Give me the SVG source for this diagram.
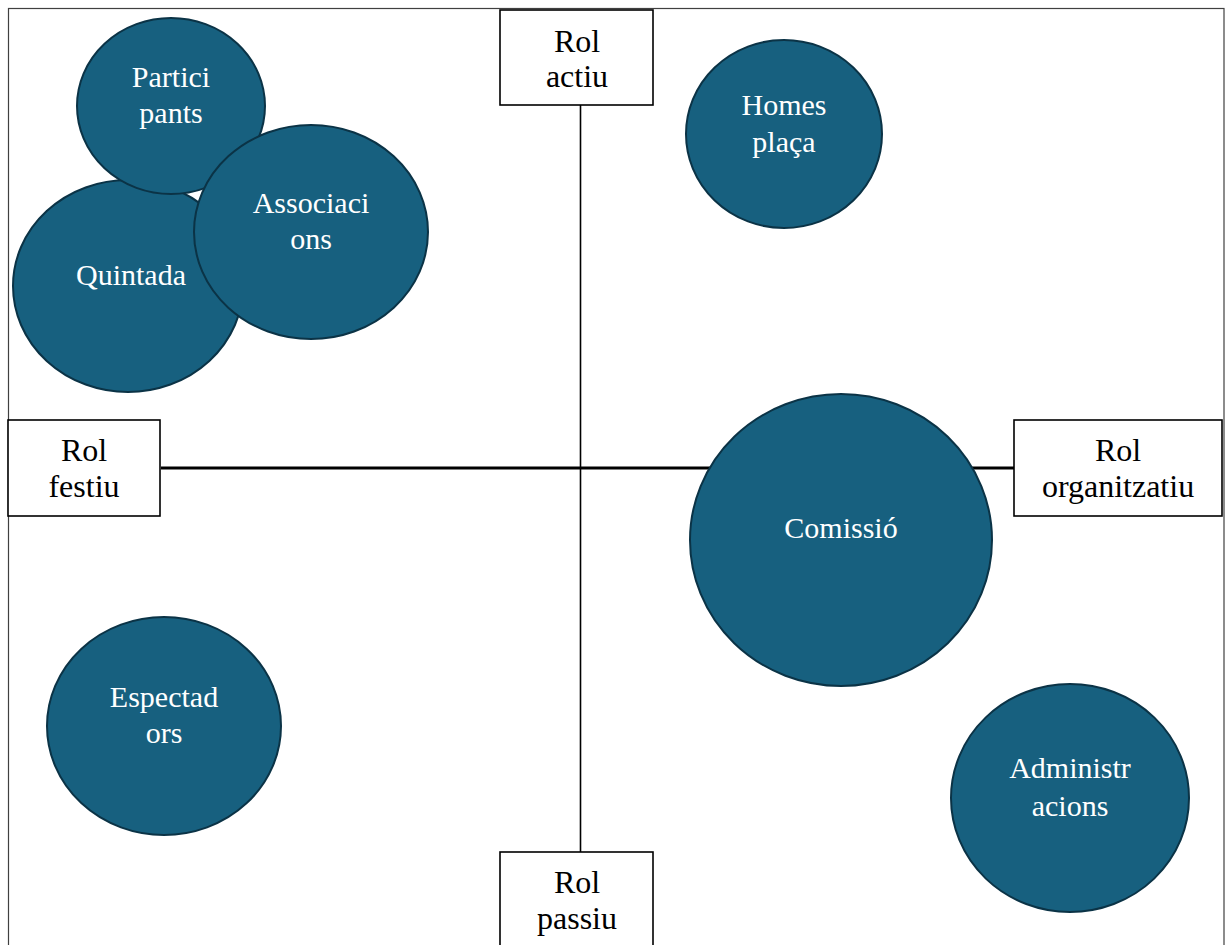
<svg xmlns="http://www.w3.org/2000/svg" width="1227" height="945" viewBox="0 0 1227 945">
<style>
.bg{fill:#ffffff}
.frame{fill:none;stroke:#404040;stroke-width:1.2}
.node ellipse{fill:#17607f;stroke:#0b3346;stroke-width:2}
.node text{fill:#ffffff;font-size:30px;text-anchor:middle}
.box rect{fill:#ffffff;stroke:#000000;stroke-width:1.6}
.box text{fill:#000000;font-size:32px;text-anchor:middle}
.axis-v{stroke:#000000;stroke-width:1.6;fill:none}
.axis-h{stroke:#000000;stroke-width:3.2;fill:none}
</style>
<rect class="bg" x="0" y="0" width="1227" height="945"/>
<rect class="frame" x="8.5" y="8.5" width="1215.5" height="1000"/>
<g id="connectors">
<line class="axis-v" x1="580.5" y1="105" x2="580.5" y2="852"/>
<line class="axis-h" x1="161" y1="468" x2="1014" y2="468"/>
</g>
<g font-family="'Liberation Serif', 'Times New Roman', Times, serif">
<g id="rol-actiu" class="box">
<rect x="500" y="10" width="153" height="95"/>
<text x="577" y="52">Rol</text>
<text x="577" y="87">actiu</text>
</g>
<g id="rol-festiu" class="box">
<rect x="8" y="420" width="152" height="96"/>
<text x="84" y="461">Rol</text>
<text x="84" y="497">festiu</text>
</g>
<g id="rol-organitzatiu" class="box">
<rect x="1014" y="420" width="208" height="96"/>
<text x="1118" y="461">Rol</text>
<text x="1118" y="497">organitzatiu</text>
</g>
<g id="rol-passiu" class="box">
<rect x="500" y="852" width="153" height="110"/>
<text x="577" y="893">Rol</text>
<text x="577" y="929">passiu</text>
</g>
<g id="quintada" class="node">
<ellipse cx="128" cy="286" rx="115" ry="106"/>
<text x="131" y="285">Quintada</text>
</g>
<g id="participants" class="node">
<ellipse cx="171" cy="106" rx="94" ry="88"/>
<text x="171" y="87">Partici</text>
<text x="171" y="123">pants</text>
</g>
<g id="associacions" class="node">
<ellipse cx="311" cy="232" rx="117" ry="107"/>
<text x="311" y="213">Associaci</text>
<text x="311" y="249">ons</text>
</g>
<g id="homes-placa" class="node">
<ellipse cx="784" cy="134" rx="98" ry="94"/>
<text x="784" y="115">Homes</text>
<text x="784" y="152">plaça</text>
</g>
<g id="comissio" class="node">
<ellipse cx="841" cy="540" rx="151" ry="146"/>
<text x="841" y="538">Comissió</text>
</g>
<g id="espectadors" class="node">
<ellipse cx="164" cy="726" rx="117" ry="109"/>
<text x="164" y="707">Espectad</text>
<text x="164" y="743">ors</text>
</g>
<g id="administracions" class="node">
<ellipse cx="1070" cy="798" rx="119" ry="114"/>
<text x="1070" y="778">Administr</text>
<text x="1070" y="816">acions</text>
</g>
</g>
</svg>
